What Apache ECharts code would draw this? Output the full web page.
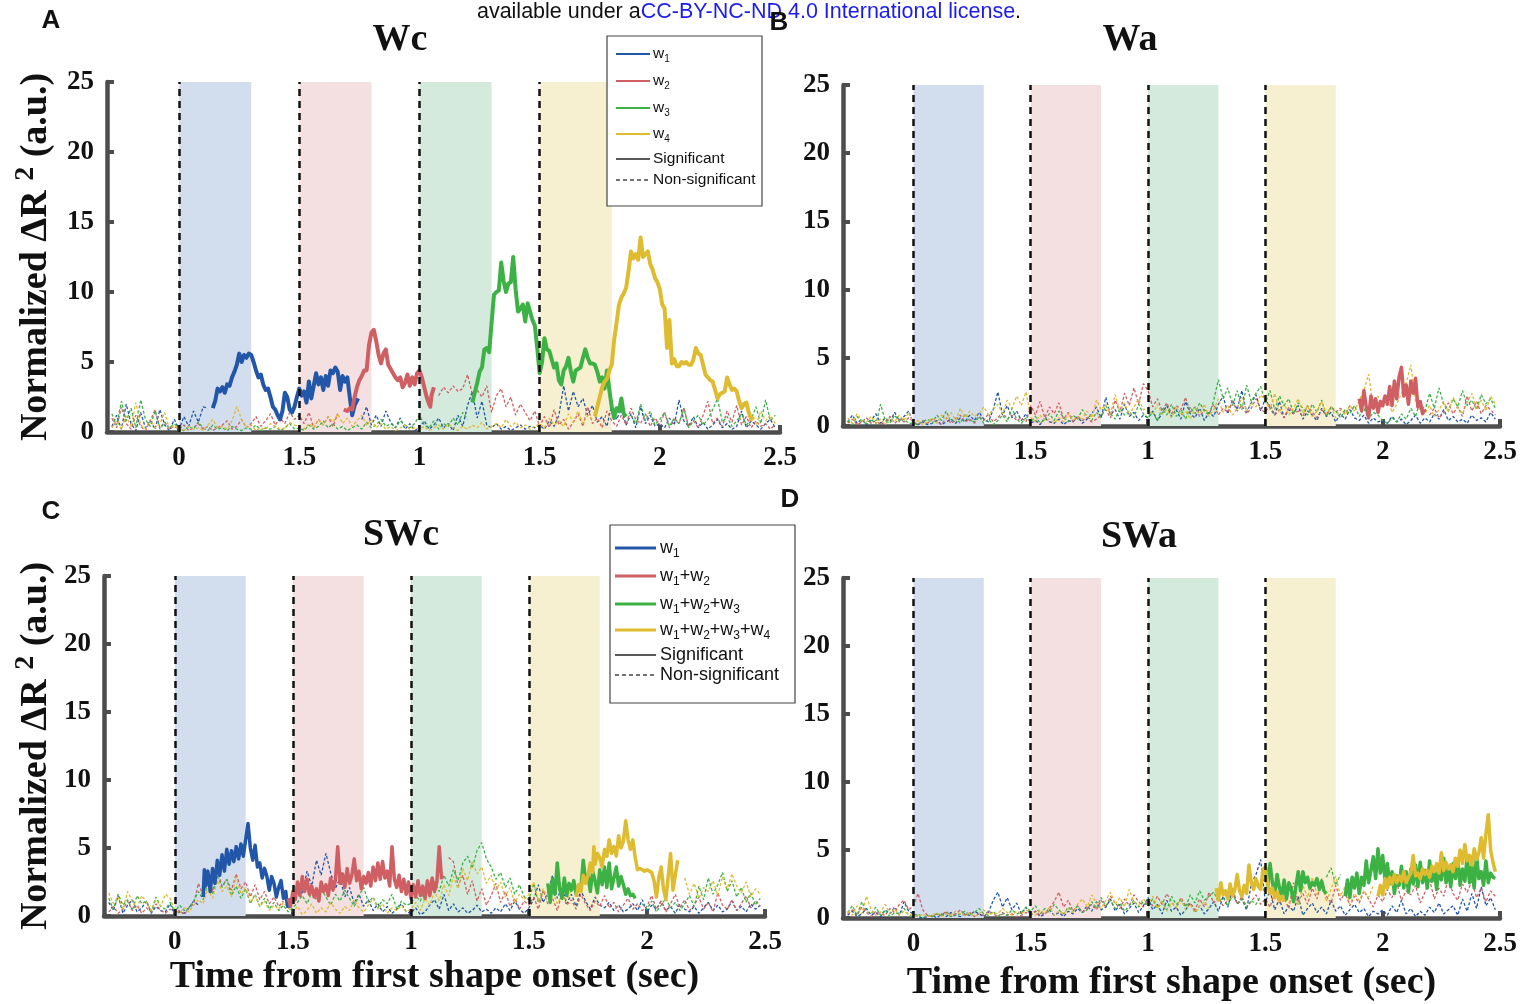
<!DOCTYPE html>
<html>
<head>
<meta charset="utf-8">
<script src="https://cdn.jsdelivr.net/npm/echarts@6/dist/echarts.min.js"></script>
<style>
html, body { margin: 0; padding: 0; background: #fff; }
#chart { width: 1528px; height: 1004px; }
</style>
</head>
<body>
<div id="chart"></div>
<script>
var _ = null;

// sampling grid of the thin (non-significant) traces
var timeStart = -0.28, timeStep = 0.02, timeCount = 139;
var timeSec = [];
for (var i = 0; i < timeCount; i++) {
	timeSec.push(Math.round((timeStart + i * timeStep) * 100) / 100);
}

var xTickVals = [0, 0.5, 1, 1.5, 2, 2.5];
var xTickText = ['0', '1.5', '1', '1.5', '2', '2.5'];
var bandStart = [0, 0.5, 1.0, 1.5];
var bandEnd = [0.3, 0.8, 1.3, 1.8];
var bandColors = ['#d2ddee', '#f5e0e1', '#d3eadc', '#f6f0d1'];
var wColors = ['#2256a8', '#cf5f63', '#3cb244', '#dfbb2f'];

/* ---------- A : Wc ---------- */
var wcW1 = [0.4,1.2,0.2,2.0,0.6, 0.1,1.4,0.3,0.8,0.2, 1.6,0.5,0.1,0.9,
	0.2,1.1,0.4,1.5,0.7, 1.8,1.7,_,_,_, _,_,_,_,_, _,_,_,_,_, _,_,_,_,_,
	_,_,_,_,_, _,_,_,_,_, _,_,_,0.9,1.8, 0.5,1.2,0.4,1.5,0.7, 0.3,1.0,0.2,0.6,0.1,
	0.3,0.8,0.2,0.5,1.0, 0.3,0.6,0.1,1.2,0.4, 1.9,2.9,1.0,2.2,0.5, 0.3,0.6,0.2,0.4,0.1, 0.3,0.5,0.2,0.4,0.3,
	0.5,0.2,0.8,0.4,1.2, 3.3,1.5,2.9,1.8,2.4, 1.2,1.9,0.7,1.1,0.4, 2.0,0.9,1.6,0.5,1.3, 0.3,1.8,0.6,1.2,0.4,
	0.6,0.3,1.0,0.5,2.3, 0.8,0.4,1.1,0.3,0.7, 0.2,0.5,0.9,0.3,0.6, 0.2,0.4,1.5,0.3,0.8, 0.5,0.2,0.6,0.9,0.3];
var wcW2 = [1.0,0.3,1.8,0.6,0.2, 1.2,0.4,0.1,0.8,1.6, 0.3,0.7,0.2,0.4,
	0.2,0.5,0.1,0.3,0.6, 0.2,0.4,0.1,0.3,0.5, 0.8,0.2,0.4,0.9,0.3, 0.6,1.1,0.4,0.8,1.3, 0.5,1.0,0.6,1.4,0.9,
	1.2,0.6,1.4,0.3,0.9, 0.5,1.1,0.4,1.3,_, _,_,_,_,_, _,_,_,_,_, _,_,_,_,_,
	_,_,_,_,2.6, 3.2,2.8,3.3,2.9,3.1, 4.1,2.7,3.0,2.5,3.3, 1.4,2.6,3.1,1.8,2.5, 1.2,2.0,1.4,0.8,1.5,
	0.4,1.1,0.3,1.6,0.5, 0.9,0.2,0.7,1.3,0.4, 1.8,0.6,1.0,0.3,1.5, 0.8,0.4,1.2,0.5,1.7, 0.9,0.6,1.3,0.4,1.0,
	0.5,1.4,0.3,0.9,0.6, 1.7,0.4,0.8,0.3,1.2, 2.2,0.6,1.0,0.4,1.5, 0.7,1.9,0.5,1.1,0.3, 0.8,0.4,0.6,0.2,0.5];
var wcW3 = [1.3,0.5,2.2,0.8,1.7, 0.3,2.3,0.9,0.4,1.5, 0.2,0.7,0.3,0.6,
	0.2,0.1,0.4,0.2,0.7, 0.3,0.1,0.5,0.2,0.3, 0.1,0.4,0.2,0.1,0.3, 0.2,0.5,0.1,0.3,0.2, 0.4,0.1,0.3,0.6,0.2,
	0.3,0.1,0.5,0.2,0.4, 0.8,0.3,0.6,0.2,0.4, 0.1,0.3,0.5,0.2,0.7, 0.3,0.5,0.9,0.4,0.6, 0.3,0.8,0.5,0.3,0.6,
	1.2,0.5,0.3,0.8,0.2, 0.6,0.4,1.0,0.5,1.4, 0.9,_,_,_,_, _,_,_,_,_, _,_,_,_,_,
	_,_,_,_,_, _,_,_,_,_, _,_,_,_,_, _,_,_,_,1.2, 0.6,2.0,0.8,1.5,0.5,
	0.9,1.4,0.4,1.0,0.6, 1.7,0.3,0.8,1.2,0.5, 0.9,1.6,2.4,0.7,1.1, 0.4,0.8,1.3,0.5,0.9, 1.8,0.6,2.3,0.8,1.2];
var wcW4 = [0.3,0.8,0.2,1.1,0.4, 2.1,0.5,0.2,0.9,0.3, 0.6,1.4,0.2,0.5,
	0.2,0.1,0.4,0.2,0.3, 0.1,0.5,0.9,0.3,0.4, 0.2,0.8,1.8,0.9,0.3, 0.5,0.1,0.3,0.2,0.6, 0.4,0.2,0.3,0.7,0.5,
	0.4,0.2,0.6,0.3,0.9, 0.5,1.1,0.7,1.3,0.6, 1.0,0.4,0.8,1.2,0.5, 0.9,0.3,0.6,0.2,0.4, 0.1,0.3,0.5,0.2,0.3,
	0.2,0.4,0.1,0.3,0.5, 0.2,0.6,0.3,0.1,0.4, 0.2,0.5,0.3,0.7,0.2, 0.4,0.6,0.3,0.9,0.4, 0.7,0.3,0.5,0.2,0.4,
	0.6,0.3,1.0,0.5,0.8, 0.4,1.3,0.7,1.5,0.6, 1.2,0.9,_,_,_, _,_,_,_,_, _,_,_,_,_,
	_,_,_,_,_, _,_,_,_,_, _,_,_,_,_, _,_,_,_,_, 0.5,1.5,0.8,1.2,0.6];

var wcW1Sig = [[[0.14,1.7],[0.15,2.2],[0.16,3.1],[0.17,2.9],[0.18,3.2],[0.19,2.8],[0.20,3.4],[0.21,3.3],[0.22,3.9],[0.23,4.3],[0.24,4.8],[0.25,5.6],[0.26,5.0],[0.27,5.5],[0.28,5.3],[0.29,5.6],[0.30,5.5],[0.31,5.0],[0.32,4.4],[0.33,3.9],[0.34,4.1],[0.35,3.4],[0.36,3.0],[0.37,3.1],[0.38,2.5],[0.39,1.8],[0.40,1.6],[0.41,1.2],[0.42,0.9],[0.43,1.5],[0.44,2.8],[0.45,2.5],[0.46,1.6],[0.47,1.4],[0.48,1.8],[0.49,2.5],[0.50,3.1],[0.51,2.6],[0.52,2.9],[0.53,2.1],[0.54,3.6],[0.55,2.4],[0.56,3.3],[0.57,4.2],[0.58,3.4],[0.59,3.9],[0.60,3.0],[0.61,4.0],[0.62,3.3],[0.63,4.4],[0.64,4.2],[0.65,4.6],[0.66,4.3],[0.67,3.0],[0.68,4.0],[0.69,3.6],[0.70,3.9],[0.71,2.5],[0.72,1.2],[0.73,1.9],[0.745,2.4]]];
var wcW2Sig = [[[0.685,1.6],[0.70,1.5],[0.71,1.7],[0.72,1.6],[0.73,2.5],[0.74,3.2],[0.75,3.7],[0.76,4.0],[0.77,4.4],[0.78,4.4],[0.79,6.2],[0.80,7.1],[0.81,7.3],[0.82,6.5],[0.83,5.5],[0.84,4.9],[0.85,5.6],[0.86,5.9],[0.87,4.8],[0.88,4.5],[0.89,4.2],[0.90,3.9],[0.91,3.7],[0.92,3.9],[0.93,3.2],[0.94,3.5],[0.95,4.1],[0.96,3.3],[0.97,3.9],[0.98,3.4],[0.99,4.2],[1.00,4.4],[1.01,3.9],[1.02,3.2],[1.03,2.5],[1.04,2.0],[1.045,1.8],[1.05,2.6],[1.06,3.2]]];
var wcW3Sig = [[[1.22,2.1],[1.23,2.8],[1.24,3.5],[1.25,4.3],[1.26,4.6],[1.27,5.9],[1.28,6.0],[1.29,5.7],[1.30,7.8],[1.31,9.8],[1.32,10.0],[1.33,10.1],[1.34,12.1],[1.35,10.8],[1.36,10.0],[1.37,10.6],[1.38,10.7],[1.39,12.5],[1.40,10.2],[1.41,8.6],[1.42,8.8],[1.43,9.1],[1.44,7.9],[1.45,9.2],[1.46,8.6],[1.47,8.0],[1.48,7.6],[1.49,6.0],[1.50,4.2],[1.51,5.0],[1.52,6.7],[1.53,5.9],[1.54,5.8],[1.55,5.2],[1.56,4.6],[1.57,4.9],[1.58,3.7],[1.59,3.4],[1.60,4.4],[1.61,4.7],[1.62,5.3],[1.63,4.3],[1.64,3.6],[1.65,4.4],[1.66,4.5],[1.67,4.6],[1.68,5.3],[1.69,5.9],[1.70,5.3],[1.71,4.9],[1.72,4.9],[1.73,4.8],[1.74,4.3],[1.75,3.6],[1.76,3.9],[1.77,3.1],[1.78,4.4],[1.79,3.0],[1.80,1.8],[1.81,1.0],[1.82,1.7],[1.83,1.5],[1.84,2.4],[1.85,1.3],[1.86,1.1]]];
var wcW4Sig = [[[1.73,1.1],[1.74,1.8],[1.75,2.5],[1.76,3.2],[1.77,3.6],[1.78,3.8],[1.79,4.4],[1.80,4.8],[1.81,6.6],[1.82,7.8],[1.83,9.1],[1.84,9.6],[1.85,9.9],[1.86,10.3],[1.87,11.5],[1.88,12.9],[1.89,12.4],[1.90,12.7],[1.91,12.3],[1.92,13.9],[1.93,12.5],[1.94,12.7],[1.95,12.9],[1.96,12.0],[1.97,11.6],[1.98,11.0],[1.99,10.7],[2.00,10.2],[2.01,9.1],[2.02,8.8],[2.03,6.0],[2.04,8.0],[2.05,4.9],[2.06,5.2],[2.07,4.7],[2.08,4.7],[2.09,5.0],[2.10,4.9],[2.11,5.0],[2.12,4.8],[2.13,4.8],[2.14,5.2],[2.15,6.0],[2.16,5.6],[2.17,5.5],[2.18,4.8],[2.19,4.1],[2.20,3.9],[2.21,3.7],[2.22,3.6],[2.23,3.0],[2.24,2.4],[2.25,2.7],[2.26,2.8],[2.27,2.9],[2.28,3.9],[2.29,3.4],[2.30,3.0],[2.31,3.1],[2.32,2.9],[2.33,2.2],[2.34,1.7],[2.35,2.0],[2.36,2.1],[2.37,1.4],[2.38,0.9],[2.39,1.1]]];

/* ---------- B : Wa ---------- */
var waW1 = [0.3,0.8,0.2,0.5,0.1, 0.4,0.9,0.2,0.6,0.3, 1.0,0.4,0.7,1.1,
	0.2,0.1,0.3,0.1,0.2, 0.4,0.1,0.3,0.5,0.2, 0.6,0.3,0.8,0.4,1.0, 0.5,0.3,1.2,2.5,0.8, 1.5,0.6,1.1,0.4,0.9,
	0.2,0.4,0.1,0.6,0.3, 0.2,0.5,0.1,0.4,0.3, 0.7,0.2,0.5,0.9,1.4, 0.6,2.1,0.8,1.2,0.5, 1.6,0.7,1.0,0.4,0.8,
	0.6,1.1,0.4,0.9,1.5, 0.7,1.2,0.5,1.8,0.9, 0.6,1.3,0.4,1.0,0.7, 1.6,2.2,0.9,1.9,1.2, 2.6,1.0,1.7,2.3,1.1,
	2.0,1.3,0.8,1.8,0.6, 1.2,0.9,1.5,0.5,1.1, 0.8,0.4,1.3,0.7,1.0, 0.3,0.9,0.5,1.2,0.6, 0.4,0.8,0.2,0.6,0.3,
	0.4,0.2,0.7,0.3,0.5, 0.1,0.4,0.8,0.2,0.6, 0.3,0.9,0.5,1.2,0.4, 0.7,0.3,0.5,0.2,0.8, 0.4,0.6,0.3,1.0,0.5];
var waW2 = [0.2,0.5,0.1,0.3,0.6, 0.2,0.4,0.1,0.3,0.7, 0.2,0.5,0.3,0.6,
	0.3,0.1,0.4,0.2,0.5, 0.3,0.1,0.6,0.2,0.4, 0.8,0.3,0.5,0.2,0.7, 0.4,0.9,0.3,0.6,1.0, 0.5,0.8,0.4,0.6,0.3,
	1.5,0.8,1.8,0.6,1.4, 0.9,1.7,0.5,1.0,0.3, 0.7,0.4,0.6,0.3,0.5, 0.8,1.2,0.6,1.9,1.0, 2.4,1.5,2.8,1.6,3.1,
	2.6,1.4,2.0,1.1,1.7, 0.9,1.5,1.2,2.1,1.0, 1.4,0.7,1.2,0.9,1.6, 0.8,1.3,1.0,1.8,1.1, 1.5,0.9,1.3,2.0,1.2,
	1.0,1.6,0.8,1.2,0.6, 1.4,0.9,1.1,0.7,1.5, 1.0,0.6,1.2,0.8,1.4, 1.0,1.3,0.9,1.5,1.1, _,_,_,_,_,
	_,_,_,_,_, _,_,_,_,_, 0.8,1.3,0.6,1.0,1.7, 0.9,1.4,0.7,2.2,1.1, 1.8,0.9,1.5,1.2,0.8];
var waW3 = [0.4,0.1,0.7,0.3,0.2, 0.5,0.1,1.6,0.4,0.2, 0.8,0.3,0.5,0.2,
	0.2,0.1,0.3,0.5,0.2, 0.8,0.4,1.1,0.3,0.6, 0.2,0.9,0.4,0.3,0.7, 0.2,0.5,0.1,0.4,0.8, 0.3,1.3,0.5,0.2,0.6,
	0.3,0.7,0.2,0.5,0.9, 0.4,1.1,0.6,0.3,0.8, 0.5,1.2,0.7,0.4,1.0, 0.6,1.5,0.9,0.5,1.3, 0.8,1.1,0.6,1.6,0.9,
	0.6,1.0,0.4,1.3,0.8, 1.6,0.7,1.2,0.5,1.4, 0.9,1.7,1.1,0.8,1.9, 3.4,2.0,2.8,1.5,2.6, 1.2,3.0,1.8,2.4,2.9,
	1.7,2.6,1.2,2.2,1.5, 2.0,0.9,1.7,1.3,0.8, 1.6,1.0,1.9,0.7,1.4, 1.1,0.6,1.2,0.9,1.5, 0.7,1.3,0.5,1.0,0.8,
	0.4,0.2,0.6,0.3,0.9, 0.5,1.3,0.7,1.8,1.1, 2.4,1.3,2.8,1.6,1.1, 2.0,1.4,2.6,1.5,1.9, 1.2,2.3,1.6,2.0,1.3];
var waW4 = [0.6,0.2,0.9,0.4,0.3, 0.7,0.2,0.5,0.1,0.6, 0.3,0.8,0.4,1.0,
	0.2,0.4,0.1,0.3,0.6, 0.2,0.8,0.5,1.0,0.4, 1.3,0.6,1.1,0.7,0.9, 1.4,0.8,1.2,1.6,0.9, 1.9,1.3,2.2,1.5,2.5,
	0.6,0.3,0.8,0.4,0.5, 0.2,0.6,0.3,0.9,0.4, 0.7,0.5,1.1,0.6,1.9, 1.2,1.6,0.9,2.3,1.1, 1.7,0.8,1.4,2.0,1.2,
	1.3,0.8,1.6,0.9,1.2, 0.6,1.4,0.8,1.1,0.5, 1.3,0.9,1.6,0.7,1.2, 2.0,1.0,1.5,0.8,1.3, 2.1,1.1,1.7,1.4,2.3,
	1.9,1.2,2.4,1.0,1.6, 0.8,1.3,2.0,0.9,1.5, 0.7,1.1,1.8,0.9,1.4, 0.6,1.2,0.8,1.5,1.1, 1.9,2.6,3.8,1.4,2.2,
	1.3,2.0,1.0,1.6,2.4, 3.1,4.5,1.8,1.2,0.9, 1.5,0.7,1.2,1.8,1.0, 2.1,1.4,0.9,1.7,2.4, 1.3,1.9,1.1,2.2,1.6];

var waW1Sig = [];
var waW2Sig = [[[1.90,2.0],[1.91,1.1],[1.92,2.6],[1.93,1.4],[1.94,0.6],[1.95,2.2],[1.96,1.3],[1.97,2.0],[1.98,1.0],[1.99,1.8],[2.00,1.5],[2.01,2.2],[2.02,1.6],[2.03,2.9],[2.04,1.5],[2.05,3.3],[2.06,2.0],[2.07,3.6],[2.08,4.3],[2.09,2.2],[2.10,3.0],[2.11,1.6],[2.12,3.3],[2.13,2.4],[2.14,3.5],[2.15,1.4],[2.16,1.8],[2.17,0.9],[2.18,1.2]]];
var waW3Sig = [];
var waW4Sig = [];

/* ---------- C : SWc ---------- */
var swcW1 = [1.0,0.4,1.5,0.2,0.8, 1.2,0.3,0.6,1.1,0.2, 0.7,0.4,0.3,0.9,
	0.1,0.3,0.2,0.6,1.1, 0.8,_,_,_,_, _,_,_,_,_, _,_,_,_,_, _,_,_,_,_,
	1.2,2.4,1.6,3.3,2.2, 4.1,3.0,4.6,3.2,2.0, 2.8,1.4,2.1,0.9,1.6, 0.7,1.2,0.4,0.9,0.3, 0.7,0.2,0.5,0.9,0.3,
	0.2,0.6,0.1,0.3,0.8, 1.2,0.5,1.6,0.4,0.9, 0.3,0.6,0.2,0.4,0.8, 0.3,0.5,0.2,0.6,0.3, 0.9,0.4,1.1,0.5,0.2,
	0.6,1.2,2.3,1.0,1.7, 3.0,1.3,2.1,0.9,1.6, 0.7,1.9,1.1,0.5,1.4, 0.8,0.6,1.0,0.4,0.8, 0.3,0.5,0.9,0.4,1.2,
	0.3,0.8,0.5,1.1,0.4, 0.7,0.2,0.9,0.5,0.3, 0.7,0.2,0.6,1.0,0.4, 0.8,0.3,0.5,1.1,0.4, 0.7,0.3,0.9,0.5,0.8];
var swcW2 = [0.3,0.7,0.2,0.5,1.1, 0.4,0.8,0.2,0.6,0.3, 0.9,0.4,0.2,0.5,
	0.2,0.4,0.1,0.6,0.9, 2.4,1.5,2.9,1.8,3.4, 2.2,2.7,1.9,3.1,2.0, 2.5,1.4,2.3,1.2,1.8, 0.9,1.4,0.7,1.1,_,
	_,_,_,_,_, _,_,_,_,_, _,_,_,_,_, _,_,_,_,_, _,_,_,_,_,
	_,_,_,_,_, _,_,_,4.3,4.0, 2.2,3.0,1.6,2.6,1.1, 2.0,0.8,1.5,2.4,1.0, 1.8,0.7,1.3,0.5,1.1,
	0.8,1.4,0.5,1.9,0.9, 1.3,0.4,1.7,0.8,1.2, 0.5,1.6,0.9,0.4,1.1, 0.7,1.5,0.6,1.0,0.3, 0.8,1.3,0.5,0.9,0.4,
	0.7,1.5,0.5,1.1,0.3, 0.9,1.6,0.6,1.2,0.4, 0.8,1.4,0.5,1.0,0.3, 1.7,0.8,0.5,1.2,0.4, 0.9,1.5,0.6,1.1,0.7];
var swcW3 = [1.3,0.5,1.6,0.8,1.2, 0.4,1.5,0.9,1.1,0.3, 1.4,0.7,0.5,1.0,
	0.3,0.8,0.4,0.6,1.1, 1.8,1.2,2.4,1.6,3.0, 2.1,2.7,1.5,2.2,1.3, 2.0,0.9,1.6,0.7,1.3, 0.5,1.0,0.4,0.8,0.3,
	0.6,1.0,1.5,0.9,1.7, 1.2,2.0,1.4,0.8,1.6, 1.1,1.9,1.3,0.7,1.5, 2.1,1.0,1.4,0.6,1.2, 0.9,1.6,0.5,1.1,0.8,
	0.9,1.5,1.1,2.0,1.4, 2.6,1.8,3.0,2.2,3.4, 2.6,3.9,4.4,3.5,4.8, 5.4,4.2,3.6,2.7,3.2, 2.1,2.8,1.6,2.3,1.4,
	1.2,2.4,1.0,1.8,_, _,_,_,_,_, _,_,_,_,_, _,_,_,_,_, _,_,_,_,0.9,
	0.5,1.1,0.3,0.8,1.3, 0.6,1.0,0.4,0.9,1.5, 0.7,2.2,1.2,2.8,1.6, 2.3,3.2,1.8,2.6,1.4, 2.1,1.0,1.7,0.8,1.3];
var swcW4 = [1.7,0.9,1.4,0.5,1.8, 1.1,0.6,1.5,1.0,0.4, 1.2,0.7,1.6,1.3,
	0.4,0.2,0.6,0.3,0.8, 1.2,0.9,2.0,1.3,2.6, 1.8,2.2,1.4,2.9,1.6, 2.1,1.0,1.5,0.7,1.1, 0.4,0.8,0.5,1.0,0.6,
	0.3,0.7,0.1,0.4,0.9, 0.2,0.6,0.3,1.0,0.5, 0.2,0.7,0.4,1.2,0.6, 0.3,0.8,1.3,0.5,0.9, 0.2,0.6,0.4,0.8,0.3,
	0.5,1.0,0.4,1.3,0.8, 1.8,1.1,2.3,1.5,2.9, 2.0,3.5,2.6,4.0,3.1, 3.6,2.4,3.0,1.9,2.5, 1.4,2.1,1.0,1.6,1.2,
	1.6,2.5,1.1,2.0,1.4, 1.8,0.9,1.5,1.2,1.9, _,_,_,_,_, _,_,_,_,_, _,_,_,_,_,
	_,_,_,_,_, _,_,_,2.8,1.6, 2.4,1.3,2.1,1.8,2.6, 1.5,2.9,2.0,3.1,2.2, 1.7,2.5,1.4,2.0,1.6];

var swcW1Sig = [[[0.12,1.4],[0.125,3.4],[0.13,2.2],[0.14,3.3],[0.15,1.8],[0.16,3.5],[0.17,2.4],[0.18,4.1],[0.19,3.0],[0.20,4.5],[0.21,3.3],[0.22,4.9],[0.23,3.8],[0.24,4.8],[0.25,4.0],[0.26,5.1],[0.27,4.2],[0.28,5.3],[0.29,4.4],[0.30,5.6],[0.31,6.8],[0.32,5.0],[0.33,4.1],[0.34,5.2],[0.35,3.6],[0.36,3.9],[0.37,2.8],[0.38,3.5],[0.39,2.9],[0.40,1.9],[0.41,2.9],[0.42,2.4],[0.43,1.4],[0.44,2.1],[0.45,2.6],[0.46,1.3],[0.47,1.8],[0.475,1.0],[0.48,0.6]]];
var swcW2Sig = [[[0.48,1.3],[0.49,0.7],[0.50,1.8],[0.51,1.2],[0.52,2.5],[0.53,1.5],[0.54,2.9],[0.55,1.8],[0.56,2.7],[0.57,1.6],[0.58,2.2],[0.59,1.4],[0.60,2.0],[0.61,1.1],[0.62,2.5],[0.63,1.8],[0.64,2.3],[0.65,1.5],[0.66,2.8],[0.67,1.9],[0.68,2.6],[0.69,5.1],[0.70,2.4],[0.71,3.1],[0.72,2.1],[0.73,3.5],[0.74,2.4],[0.75,3.0],[0.76,4.2],[0.77,2.6],[0.78,3.3],[0.79,2.0],[0.80,2.9],[0.81,2.4],[0.82,3.2],[0.83,2.2],[0.84,3.6],[0.85,2.6],[0.86,3.9],[0.87,2.7],[0.88,4.0],[0.89,2.8],[0.90,3.3],[0.91,2.2],[0.92,5.1],[0.93,2.7],[0.94,2.1],[0.95,3.0],[0.96,1.8],[0.97,2.7],[0.98,1.6],[0.99,2.5],[1.00,1.3],[1.01,2.3],[1.02,1.4],[1.03,2.6],[1.04,1.5],[1.05,2.2],[1.06,1.3],[1.07,2.6],[1.08,1.5],[1.09,2.8],[1.10,1.8],[1.11,2.5],[1.12,5.1],[1.13,2.7]]];
var swcW3Sig = [[[1.58,2.4],[1.59,1.0],[1.60,2.7],[1.61,1.6],[1.62,3.9],[1.63,2.0],[1.64,1.3],[1.65,2.8],[1.66,1.5],[1.67,2.4],[1.68,1.9],[1.69,2.6],[1.70,1.6],[1.71,2.2],[1.72,2.0],[1.73,4.1],[1.74,2.6],[1.75,3.0],[1.76,1.8],[1.77,3.3],[1.78,2.6],[1.79,1.7],[1.80,3.4],[1.81,2.3],[1.82,3.6],[1.83,2.1],[1.84,3.9],[1.85,2.0],[1.86,2.8],[1.87,3.6],[1.88,2.2],[1.89,2.9],[1.90,2.3],[1.91,1.6],[1.92,2.0],[1.93,1.5],[1.94,1.6],[1.95,1.3]]];
var swcW4Sig = [[[1.70,1.4],[1.71,2.3],[1.72,1.8],[1.73,3.0],[1.74,2.4],[1.75,3.0],[1.76,3.9],[1.77,3.2],[1.775,5.1],[1.78,3.8],[1.79,4.6],[1.80,4.3],[1.81,3.6],[1.82,4.9],[1.83,4.4],[1.84,5.6],[1.85,4.6],[1.86,5.1],[1.87,4.4],[1.88,5.9],[1.89,5.0],[1.90,5.5],[1.91,7.0],[1.92,5.6],[1.93,4.9],[1.94,5.6],[1.95,4.3],[1.96,3.4],[1.97,3.5],[1.98,3.4],[1.99,3.3],[2.00,3.4],[2.01,3.3],[2.02,3.2],[2.03,2.6],[2.04,1.4],[2.05,2.8],[2.06,3.6],[2.07,2.0],[2.08,1.2],[2.09,2.9],[2.10,4.6],[2.11,1.9],[2.12,3.0],[2.13,4.1]]];

/* ---------- D : SWa ---------- */
var swaW1 = [0.2,0.5,0.1,0.3,0.7, 0.2,0.4,0.1,0.6,0.3, 0.8,0.2,1.2,0.5,
	0.3,0.1,0.0,0.1,0.2, 0.0,0.3,0.1,0.4,0.2, 0.1,0.3,0.2,0.5,0.3, 0.1,0.4,1.3,1.9,0.8, 1.5,0.6,1.1,0.3,0.8,
	0.2,0.5,0.1,0.3,0.6, 0.2,0.4,0.1,0.5,0.3, 0.7,0.4,0.9,0.5,1.2, 0.6,0.8,1.4,0.5,1.0, 0.3,0.7,1.1,0.4,0.9,
	1.5,0.6,1.0,0.3,1.3, 0.5,0.8,0.2,0.6,1.1, 0.4,0.9,0.3,0.7,1.2, 0.5,1.6,0.8,2.1,1.0, 1.4,0.6,2.5,3.2,4.3,
	1.2,2.0,0.6,1.4,0.3, 0.9,0.5,1.6,0.2,0.7, 1.1,0.4,0.8,0.3,1.3, 0.5,0.9,0.2,0.6,1.0, 0.4,0.7,0.1,0.5,0.3,
	0.6,0.2,0.9,0.4,1.3, 0.3,0.7,0.1,0.5,0.2, 0.8,0.4,1.1,0.3,0.6, 0.9,0.2,1.4,0.5,1.8, 0.7,2.3,0.9,1.5,0.6];
var swaW2 = [0.3,0.6,0.2,0.8,0.4, 0.1,0.5,0.3,0.2,0.7, 0.4,1.0,1.3,0.6,
	0.9,1.8,0.6,0.2,0.1, 0.3,0.2,0.5,0.1,0.3, 0.6,0.2,0.4,0.1,0.3, 0.2,0.5,0.3,0.1,0.4, 0.2,0.3,0.1,0.2,0.4,
	0.3,0.5,0.2,0.4,0.7, 1.2,1.9,0.8,1.3,0.5, 0.9,0.4,0.7,1.0,0.6, 1.3,0.8,1.6,1.1,0.7, 1.4,0.9,1.7,1.2,0.8,
	1.3,0.9,1.6,1.0,1.8, 1.2,0.7,1.5,0.9,1.1, 0.6,1.4,0.8,1.9,1.1, 1.5,0.9,1.3,2.2,1.0, 1.6,0.8,1.2,1.7,1.0,
	1.4,0.8,1.9,1.1,1.5, 0.7,2.6,1.2,1.8,1.0, 2.2,1.4,2.9,1.6,1.1, 2.4,1.3,1.9,0.9,1.6, 1.1,2.0,1.4,0.8,1.7,
	1.2,2.1,1.5,2.6,1.3, 2.0,1.7,2.4,1.1,1.9, 2.8,1.4,2.2,1.6,2.9, 1.8,1.3,2.5,1.9,2.7, 1.5,2.2,1.2,2.0,1.6];
var swaW3 = [0.4,0.9,0.2,1.2,0.5, 0.3,0.8,0.2,0.6,0.1, 0.4,0.3,0.7,0.2,
	0.1,0.3,0.0,0.2,0.1, 0.3,0.2,0.4,0.1,0.2, 0.3,0.5,0.2,0.4,0.7, 0.3,0.2,0.5,0.1,0.3, 0.2,0.6,0.3,0.4,0.8,
	0.5,0.9,0.3,0.7,0.4, 1.0,0.6,0.3,0.8,0.5, 0.9,0.4,0.6,1.2,0.7, 1.5,0.9,1.3,0.7,1.1, 0.5,0.9,1.3,0.8,1.2,
	0.9,1.4,0.7,1.2,0.6, 1.6,1.0,1.3,0.8,1.7, 1.1,2.0,1.3,1.6,1.9, 1.2,1.5,0.9,1.7,1.1, 1.4,0.8,1.3,1.0,1.6,
	_,_,_,_,_, _,_,_,_,_, _,_,_,3.0,3.7, 2.4,3.2,_,_,_, _,_,_,_,_,
	_,_,_,_,_, _,_,_,_,_, _,_,_,_,_, _,_,_,_,_, _,_,_,_,_];
var swaW4 = [0.5,0.2,0.9,0.3,1.6, 0.6,0.2,0.4,1.0,0.3, 0.7,0.2,0.5,0.3,
	0.2,0.1,0.3,0.1,0.2, 0.4,0.1,0.3,0.2,0.5, 0.3,0.2,0.4,0.1,0.3, 0.6,0.2,0.4,0.3,0.7, 0.4,0.2,0.5,0.3,0.6,
	0.4,0.2,0.6,0.3,0.8, 0.2,0.5,0.3,0.7,0.4, 1.0,1.4,0.8,1.7,1.1, 0.7,1.3,1.9,1.0,1.5, 0.8,2.1,1.2,0.9,1.4,
	1.0,1.6,0.7,1.3,0.5, 1.1,0.8,1.4,0.6,1.0, 0.4,0.9,1.2,0.7,_, _,_,_,_,_, _,_,_,_,_,
	_,_,_,_,_, 1.1,1.8,0.9,2.4,1.5, 3.0,1.7,2.6,1.2,2.1, 3.1,1.6,2.3,1.0,1.8, 1.3,2.0,1.5,2.4,_,
	_,_,_,_,_, _,_,_,_,_, _,_,_,_,_, _,_,_,_,_, _,_,_,_,_];

var swaW1Sig = [];
var swaW2Sig = [];
var swaW3Sig = [
	[[1.50,3.8],[1.51,2.4],[1.52,4.0],[1.53,2.6],[1.54,1.8],[1.55,3.2],[1.56,2.2],[1.57,1.6],[1.58,2.8],[1.59,1.4],[1.60,2.6],[1.61,2.1],[1.62,1.2],[1.63,2.3],[1.64,3.4],[1.65,2.0],[1.66,3.4],[1.67,2.6],[1.68,3.0],[1.69,2.2],[1.70,2.6],[1.71,2.4],[1.72,2.9],[1.73,2.1],[1.74,2.7],[1.75,2.0],[1.76,1.8]],
	[[1.84,1.6],[1.85,2.8],[1.86,1.5],[1.87,3.0],[1.88,2.2],[1.89,3.3],[1.90,1.8],[1.91,3.0],[1.92,2.4],[1.93,4.2],[1.94,2.6],[1.95,3.5],[1.96,4.5],[1.97,2.9],[1.98,5.1],[1.99,3.3],[2.00,4.6],[2.01,2.8],[2.02,4.0],[2.03,2.5],[2.04,3.4],[2.05,1.8],[2.06,3.1],[2.07,2.4],[2.08,3.8],[2.09,2.2],[2.10,3.4],[2.11,1.9],[2.12,3.6],[2.13,2.5],[2.14,3.9],[2.15,2.3],[2.16,4.1],[2.17,2.6],[2.18,3.5],[2.19,2.2],[2.20,4.2],[2.21,2.7],[2.22,3.6],[2.23,2.1],[2.24,3.8],[2.25,2.8],[2.26,4.4],[2.27,2.6],[2.28,3.7],[2.29,2.3],[2.30,4.0],[2.31,2.9],[2.32,4.3],[2.33,2.4],[2.34,3.6],[2.35,2.7],[2.36,4.5],[2.37,2.6],[2.38,3.9],[2.39,2.2],[2.40,4.6],[2.41,2.9],[2.42,3.4],[2.43,2.4],[2.44,4.2],[2.45,2.6],[2.46,3.3],[2.47,3.0],[2.48,2.9]]
];
var swaW4Sig = [
	[[1.29,2.2],[1.30,1.3],[1.31,2.6],[1.32,1.7],[1.33,2.0],[1.34,1.4],[1.35,2.5],[1.36,1.6],[1.37,2.1],[1.38,3.2],[1.39,2.0],[1.40,1.6],[1.41,2.4],[1.42,1.8],[1.43,3.9],[1.44,2.6],[1.45,2.1],[1.46,2.9],[1.47,2.3],[1.48,2.1],[1.49,3.6],[1.50,3.7],[1.51,2.5],[1.52,1.8],[1.53,2.2],[1.54,1.5],[1.55,1.9],[1.56,1.3],[1.57,1.6],[1.58,1.2]],
	[[1.98,1.6],[1.99,2.4],[2.00,1.7],[2.01,2.9],[2.02,2.2],[2.03,3.0],[2.04,2.5],[2.05,3.2],[2.06,2.6],[2.07,3.1],[2.08,2.7],[2.09,3.4],[2.10,2.6],[2.11,3.0],[2.12,3.3],[2.13,4.6],[2.14,3.1],[2.15,3.3],[2.16,2.9],[2.17,3.6],[2.18,3.2],[2.19,3.5],[2.20,3.0],[2.21,3.8],[2.22,3.4],[2.23,4.0],[2.24,3.3],[2.25,4.8],[2.26,3.5],[2.27,4.1],[2.28,3.6],[2.29,3.9],[2.30,3.4],[2.31,4.4],[2.32,3.8],[2.33,5.0],[2.34,4.0],[2.35,5.4],[2.36,4.2],[2.37,4.6],[2.38,3.9],[2.39,5.1],[2.40,4.3],[2.41,4.8],[2.42,5.9],[2.43,4.4],[2.44,6.2],[2.45,7.6],[2.46,5.0],[2.47,4.1],[2.48,3.4]]
];

var serif = '"Liberation Serif", "DejaVu Serif", serif';
var sans = '"Liberation Sans", Arial, sans-serif';
var axisCol = '#4d4d4d';

//每个面板: 色块 + 虚线 + 细虚线 + 粗实线
function panelSeries(g, noise, sig, sigWidth) {
	var out = [];
	out.push({
		type: 'line', xAxisIndex: g, yAxisIndex: g, data: [], silent: true, z: 1,
		markArea: {
			silent: true,
			data: bandStart.map(function (b, k) {
				return [{ xAxis: b, yAxis: 0, itemStyle: { color: bandColors[k] } }, { xAxis: bandEnd[k], yAxis: 25 }];
			})
		},
		markLine: {
			silent: true, symbol: ['none', 'none'], label: { show: false },
			lineStyle: { color: '#111', width: 2.5, type: [7, 5] },
			data: bandStart.map(function (b) { return { xAxis: b }; })
		}
	});
	noise.forEach(function (vals, k) {
		out.push({
			type: 'line', xAxisIndex: g, yAxisIndex: g, z: 2, silent: true,
			showSymbol: false, connectNulls: false,
			data: vals.map(function (v, i) { return [timeSec[i], v]; }),
			lineStyle: { color: wColors[k], width: 1.3, type: [3, 2] }
		});
	});
	sig.forEach(function (segs, k) {
		segs.forEach(function (seg) {
			out.push({
				type: 'line', xAxisIndex: g, yAxisIndex: g, z: 3, silent: true,
				showSymbol: false, data: seg,
				lineStyle: { color: wColors[k], width: sigWidth, join: 'round' }
			});
		});
	});
	return out;
}

var grids = [
	{ left: 107, top: 82, width: 673, height: 350 },
	{ left: 843, top: 85, width: 657, height: 341 },
	{ left: 104, top: 576, width: 661, height: 340 },
	{ left: 843, top: 578, width: 657, height: 340 }
];

var labelStyle = { fontFamily: serif, fontWeight: 'bold', fontSize: 27, color: '#111' };

var xAxes = grids.map(function (gr, g) {
	var ax = {
		type: 'value', gridIndex: g, min: -0.3, max: 2.5,
		axisLine: { lineStyle: { color: axisCol, width: 4.5 } },
		axisTick: { inside: true, length: 7, customValues: xTickVals, lineStyle: { color: axisCol, width: 4 } },
		axisLabel: Object.assign({
			customValues: xTickVals, margin: 13,
			formatter: function (v) { var k = xTickVals.indexOf(v); return k < 0 ? '' : xTickText[k]; }
		}, labelStyle),
		splitLine: { show: false }
	};
	if (g >= 2) {
		ax.name = 'Time from first shape onset (sec)';
		ax.nameLocation = 'middle';
		ax.nameGap = g == 2 ? 42 : 46;
		ax.nameTextStyle = { fontFamily: serif, fontWeight: 'bold', fontSize: 38, color: '#111' };
	}
	return ax;
});

var yAxes = grids.map(function (gr, g) {
	var ax = {
		type: 'value', gridIndex: g, min: 0, max: 25, interval: 5,
		axisLine: { show: true, onZero: false, lineStyle: { color: axisCol, width: 4.5 } },
		axisTick: { show: true, inside: true, length: 7, lineStyle: { color: axisCol, width: 4 } },
		axisLabel: Object.assign({ margin: 13 }, labelStyle),
		splitLine: { show: false }
	};
	if (g == 0 || g == 2) {
		ax.name = 'Normalized ΔR {s|2} (a.u.)';
		ax.nameLocation = 'middle';
		ax.nameGap = g == 0 ? 47 : 44;
		ax.nameTextStyle = {
			fontFamily: serif, fontWeight: 'bold', fontSize: 38, color: '#111',
			rich: { s: { fontFamily: serif, fontWeight: 'bold', fontSize: 28, color: '#111', padding: [0, 0, 20, 0] } }
		};
	}
	return ax;
});

var series = [].concat(
	panelSeries(0, [wcW1, wcW2, wcW3, wcW4], [wcW1Sig, wcW2Sig, wcW3Sig, wcW4Sig], 4),
	panelSeries(1, [waW1, waW2, waW3, waW4], [waW1Sig, waW2Sig, waW3Sig, waW4Sig], 3.5),
	panelSeries(2, [swcW1, swcW2, swcW3, swcW4], [swcW1Sig, swcW2Sig, swcW3Sig, swcW4Sig], 3.5),
	panelSeries(3, [swaW1, swaW2, swaW3, swaW4], [swaW1Sig, swaW2Sig, swaW3Sig, swaW4Sig], 3.5)
);

function txt(x, y, text, font, extra) {
	var st = { text: text, x: x, y: y, font: font, fill: '#111', align: 'center', verticalAlign: 'middle' };
	if (extra) Object.assign(st, extra);
	return { type: 'text', z: 20, style: st };
}

function legendBlock(box, lineX1, lineX2, textX, rows, labels, fontSize, subSize, lineW) {
	var els = [{ type: 'rect', z: 20, shape: box, style: { fill: '#fff', stroke: '#444', lineWidth: 1.2 } }];
	var cols = wColors.concat(['#222', '#444']);
	rows.forEach(function (y, k) {
		els.push({
			type: 'line', z: 21, shape: { x1: lineX1, y1: y, x2: lineX2, y2: y },
			style: { stroke: cols[k], lineWidth: k < 4 ? lineW : 1.3, lineDash: k == 5 ? [4, 3] : null }
		});
		els.push({
			type: 'text', z: 21,
			style: {
				text: labels[k], x: textX, y: y, align: 'left', verticalAlign: 'middle',
				font: fontSize + 'px ' + sans, fill: '#111',
				rich: {
					m: { fontSize: fontSize, fontFamily: sans, fill: '#111' },
					s: { fontSize: subSize, fontFamily: sans, fill: '#111', padding: [subSize, 0, 0, 0] }
				}
			}
		});
	});
	return els;
}

var graphics = [
	txt(749, 12, '{k|available under a}{b|CC-BY-NC-ND 4.0 International license}{k|.}', '21.5px ' + sans, {
		rich: { k: { fontSize: 21.5, fontFamily: sans, fill: '#111' }, b: { fontSize: 21.5, fontFamily: sans, fill: '#1c1cf0' } }
	}),
	txt(51, 21, 'A', 'bold 26px ' + sans),
	txt(779, 23, 'B', 'bold 26px ' + sans),
	txt(51, 512, 'C', 'bold 26px ' + sans),
	txt(790, 500, 'D', 'bold 26px ' + sans),
	txt(400, 40, 'Wc', 'bold 38px ' + serif),
	txt(1130, 40, 'Wa', 'bold 38px ' + serif),
	txt(401, 535, 'SWc', 'bold 38px ' + serif),
	txt(1139, 537, 'SWa', 'bold 38px ' + serif)
].concat(
	legendBlock({ x: 607, y: 36, width: 155, height: 170 }, 616, 650, 653,
		[54, 81, 108, 134, 159, 180],
		['{m|w}{s|1}', '{m|w}{s|2}', '{m|w}{s|3}', '{m|w}{s|4}', 'Significant', 'Non-significant'], 15.5, 10, 2),
	legendBlock({ x: 610, y: 525, width: 185, height: 178 }, 615, 656, 660,
		[548, 576, 604, 630, 655, 675],
		['{m|w}{s|1}', '{m|w}{s|1}{m|+w}{s|2}', '{m|w}{s|1}{m|+w}{s|2}{m|+w}{s|3}', '{m|w}{s|1}{m|+w}{s|2}{m|+w}{s|3}{m|+w}{s|4}', 'Significant', 'Non-significant'], 18, 12, 3)
);

var myChart = echarts.init(document.getElementById('chart'), null, { renderer: 'canvas' });
myChart.setOption({
	animation: false,
	backgroundColor: '#fff',
	grid: grids,
	xAxis: xAxes,
	yAxis: yAxes,
	series: series,
	graphic: { elements: graphics }
});
</script>
</body>
</html>
